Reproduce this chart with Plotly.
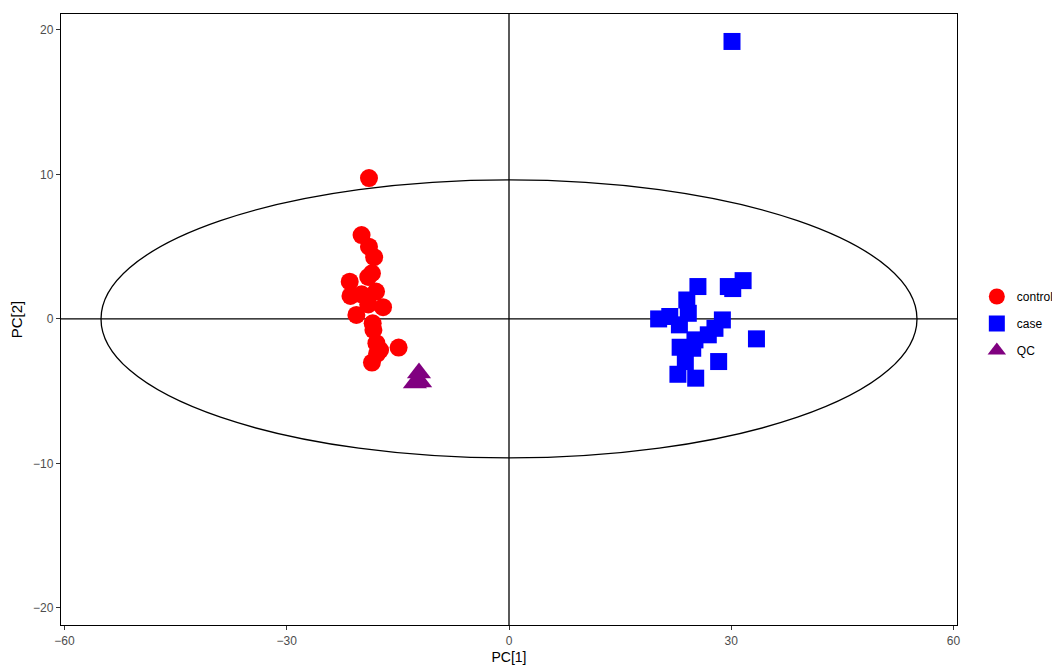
import plotly.graph_objects as go

control_x = [-18.9, -19.9, -18.9, -18.2, -18.5, -19.0, -21.5, -21.4, -19.9, -17.95, -19.0, -17.0,
             -20.6, -18.4, -18.3, -17.9, -17.4, -17.8, -14.9, -18.5]
control_y = [9.75, 5.8, 5.0, 4.27, 3.16, 2.9, 2.58, 1.59, 1.7, 1.89, 1.0, 0.81,
             0.28, -0.3, -0.76, -1.68, -2.15, -2.4, -1.98, -3.02]

case_x = [30.1, 25.5, 29.6, 30.2, 31.6, 24.0, 20.2, 21.7, 24.2, 23.0, 28.8, 27.8,
          26.9, 33.4, 25.1, 23.1, 24.8, 23.8, 28.3, 22.8, 25.2]
case_y = [19.2, 2.24, 2.24, 2.1, 2.65, 1.31, 0.0, 0.17, 0.39, -0.41, -0.07, -0.65,
          -1.1, -1.38, -1.45, -1.96, -2.03, -2.95, -2.95, -3.83, -4.1]

qc_x = [-12.15, -12.7, -12.0]
qc_y = [-3.74, -4.43, -4.36]

ellipse_a = 55.07
ellipse_b = 9.62

x_ticks = [-60, -30, 0, 30, 60]
y_ticks = [-20, -10, 0, 10, 20]

fig = go.Figure()
fig.add_trace(go.Scatter(x=control_x, y=control_y, mode="markers", name="control", legendgroup="g1",
                         marker=dict(symbol="circle", size=18, color="#ff0000", line=dict(width=0))))
fig.add_trace(go.Scatter(x=case_x, y=case_y, mode="markers", name="case", legendgroup="g2",
                         marker=dict(symbol="square", size=17, color="#0000ff", line=dict(width=0))))
fig.add_trace(go.Scatter(x=qc_x, y=qc_y, mode="markers", name="QC", legendgroup="g3",
                         marker=dict(symbol="triangle-up", size=21, color="#800080", line=dict(width=0))))

fig.add_shape(type="circle", xref="x", yref="y", x0=-ellipse_a, x1=ellipse_a, y0=-ellipse_b, y1=ellipse_b,
              line=dict(color="black", width=1.3), layer="below")
fig.add_shape(type="line", xref="x", yref="paper", x0=0, x1=0, y0=0, y1=1,
              line=dict(color="black", width=1.3), layer="below")
fig.add_shape(type="line", xref="paper", yref="y", x0=0, x1=1, y0=0, y1=0,
              line=dict(color="black", width=1.3), layer="below")

axis_common = dict(showgrid=False, zeroline=False, showline=True, linecolor="black", linewidth=1.3,
                   mirror=True, ticks="outside", ticklen=4, tickcolor="#333333", tickwidth=1,
                   automargin=False,
                   tickfont=dict(family="Liberation Sans, Arial, sans-serif", size=12, color="#4d4d4d"))

# page body has an 8px default margin; figure offset by 8px so plot area matches the 1060x665 window
fig.update_layout(
    width=1044, height=657,
    margin=dict(l=53, r=95, t=6, b=40, autoexpand=False),
    paper_bgcolor="white", plot_bgcolor="white",
    font=dict(family="Liberation Sans, Arial, sans-serif"),
    xaxis=dict(range=[-60.47, 60.47], tickvals=x_ticks,
               title=dict(text="PC[1]", font=dict(size=14, color="black"), standoff=6), **axis_common),
    yaxis=dict(range=[-21.18, 21.1], tickvals=y_ticks,
               title=dict(text="PC[2]", font=dict(size=15, color="black"), standoff=6), **axis_common),
    legend=dict(xref="container", x=0.928, y=0.4935, yanchor="middle", xanchor="left",
                font=dict(size=12, color="black"), itemsizing="trace", tracegroupgap=8),
    showlegend=True,
)

fig.write_html("out.html")
